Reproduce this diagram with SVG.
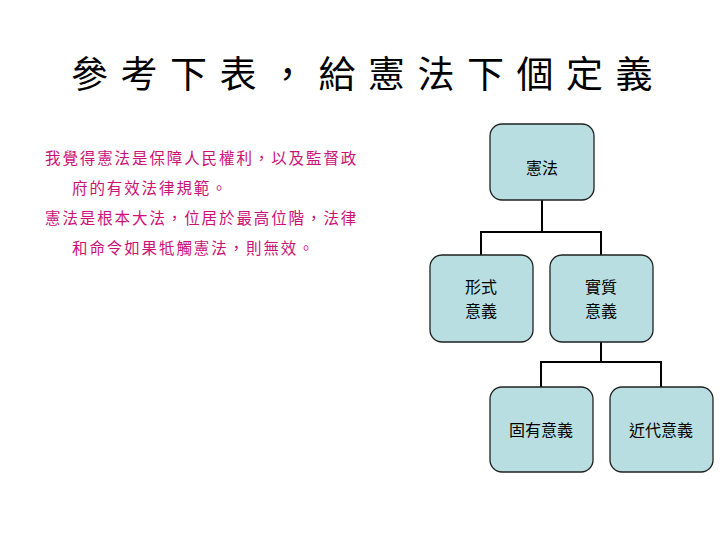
<svg xmlns="http://www.w3.org/2000/svg" width="728" height="546" viewBox="0 0 728 546">
<style>
.box{fill:#b9dee1;stroke:#222;stroke-width:1.3}
.lbl{font-family:"Liberation Sans","Noto Sans CJK TC",sans-serif;font-size:16px;fill:#000;text-anchor:middle}
.p{font-family:"Liberation Sans","Noto Sans CJK TC",sans-serif;font-size:15.5px;fill:#cc1177;letter-spacing:1.9px}
.c{fill:none;stroke:#000;stroke-width:2}
</style>
<rect width="728" height="546" fill="#fff"/>
<text x="368" y="88" text-anchor="middle" font-family="'Liberation Sans','Noto Sans CJK TC',sans-serif" font-size="37" letter-spacing="12.5">參考下表，給憲法下個定義</text>
<g id="text">
<text class="p" x="45" y="164">我覺得憲法是保障人民權利，以及監督政</text>
<text class="p" x="72" y="194">府的有效法律規範。</text>
<text class="p" x="45" y="224">憲法是根本大法，位居於最高位階，法律</text>
<text class="p" x="72" y="254">和命令如果牴觸憲法，則無效。</text>
</g>
<g id="connectors">
<path class="c" d="M542 200V232M481 255V232H601V255"/>
<path class="c" d="M601 342V362M541 387V362H661V387"/>
</g>
<g id="n1"><rect class="box" x="490" y="124" width="104" height="76" rx="12"/><text class="lbl" x="542" y="174">憲法</text></g>
<g id="n2"><rect class="box" x="430" y="255" width="103" height="87" rx="12"/><text class="lbl" x="481" y="293">形式</text><text class="lbl" x="481" y="317">意義</text></g>
<g id="n3"><rect class="box" x="550" y="255" width="103" height="87" rx="12"/><text class="lbl" x="601" y="293">實質</text><text class="lbl" x="601" y="317">意義</text></g>
<g id="n4"><rect class="box" x="490" y="387" width="103" height="85" rx="12"/><text class="lbl" x="541" y="436">固有意義</text></g>
<g id="n5"><rect class="box" x="610" y="387" width="103" height="85" rx="12"/><text class="lbl" x="661" y="436">近代意義</text></g>
</svg>
